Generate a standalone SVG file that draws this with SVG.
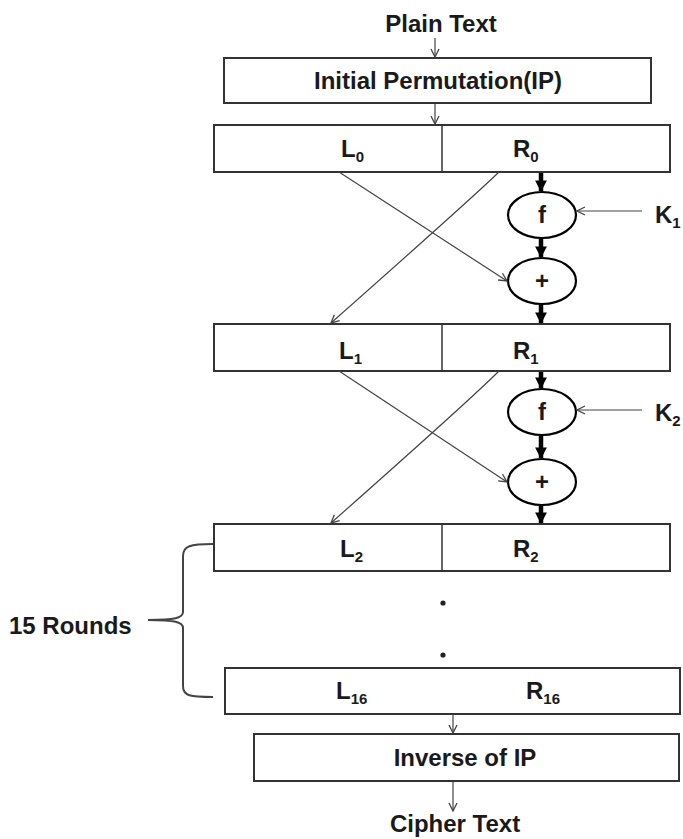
<svg xmlns="http://www.w3.org/2000/svg" width="683" height="839" viewBox="0 0 683 839">
<defs>
<style>
.box{fill:#fff;stroke:#333;stroke-width:2}
.div{stroke:#333;stroke-width:1.5}
.op{fill:#fff;stroke:#000;stroke-width:2.2}
.t{font-family:"Liberation Sans",Arial,sans-serif;font-weight:bold;font-size:24px;fill:#1a1a1a}
.s{font-size:15px}
.thin{fill:none;stroke:#444;stroke-width:1.2}
.thick{fill:none;stroke:#000;stroke-width:4.5}
</style>
<marker id="open" viewBox="0 0 10 10" refX="9" refY="5" markerWidth="10" markerHeight="10" markerUnits="userSpaceOnUse" orient="auto">
<path d="M1,1 L9,5 L1,9" fill="none" stroke="#444" stroke-width="1.3"/>
</marker>
<marker id="solid" viewBox="0 0 10 10" refX="9" refY="5" markerWidth="2.6" markerHeight="2.6" orient="auto">
<path d="M0,0 L10,5 L0,10 Z" fill="#000"/>
</marker>
</defs>
<rect width="683" height="839" fill="#fff"/>

<g id="plaintext"><text class="t" x="441" y="32" text-anchor="middle">Plain Text</text></g>
<g id="ip"><rect class="box" x="224" y="58" width="427" height="45"/><text class="t" x="438" y="89" text-anchor="middle">Initial Permutation(IP)</text></g>
<g id="lr0"><rect class="box" x="214" y="125" width="456" height="47"/><line class="div" x1="442" y1="125" x2="442" y2="172"/>
<text class="t" x="341" y="157">L<tspan class="s" dy="5">0</tspan></text>
<text class="t" x="513" y="157">R<tspan class="s" dy="5">0</tspan></text></g>
<g id="f1"><ellipse class="op" cx="542" cy="215" rx="34" ry="23"/><text class="t" x="542" y="223" text-anchor="middle" font-size="22">f</text></g>
<g id="x1"><ellipse class="op" cx="542" cy="281" rx="34" ry="23"/><text class="t" x="542" y="289" text-anchor="middle" font-size="22">+</text></g>
<g id="k1"><text class="t" x="655" y="223">K<tspan class="s" dy="5">1</tspan></text></g>
<g id="lr1"><rect class="box" x="214" y="324" width="456" height="47"/><line class="div" x1="442" y1="324" x2="442" y2="371"/>
<text class="t" x="339" y="359">L<tspan class="s" dy="5">1</tspan></text>
<text class="t" x="513" y="359">R<tspan class="s" dy="5">1</tspan></text></g>
<g id="f2"><ellipse class="op" cx="542" cy="412" rx="34" ry="23"/><text class="t" x="542" y="420" text-anchor="middle" font-size="22">f</text></g>
<g id="x2"><ellipse class="op" cx="542" cy="482" rx="34" ry="23"/><text class="t" x="542" y="490" text-anchor="middle" font-size="22">+</text></g>
<g id="k2"><text class="t" x="655" y="421">K<tspan class="s" dy="5">2</tspan></text></g>
<g id="lr2"><rect class="box" x="214" y="524" width="456" height="47"/><line class="div" x1="442" y1="524" x2="442" y2="571"/>
<text class="t" x="340" y="557">L<tspan class="s" dy="5">2</tspan></text>
<text class="t" x="513" y="557">R<tspan class="s" dy="5">2</tspan></text></g>
<g id="dots"><circle cx="443" cy="603" r="2.6" fill="#222"/><circle cx="443" cy="655" r="2.6" fill="#222"/></g>
<g id="lr16"><rect class="box" x="225" y="668" width="455" height="46"/>
<text class="t" x="336" y="699">L<tspan class="s" dy="5">16</tspan></text>
<text class="t" x="526" y="699">R<tspan class="s" dy="5">16</tspan></text></g>
<g id="invip"><rect class="box" x="254" y="734" width="425" height="47"/><text class="t" x="465" y="766" text-anchor="middle">Inverse of IP</text></g>
<g id="ciphertext"><text class="t" x="455" y="832" text-anchor="middle">Cipher Text</text></g>
<g id="rounds"><text class="t" x="9" y="634">15 Rounds</text>
<path d="M213,544 C190,544 183,546 183,556 L183,612 C183,618 175,620 148,620 M148,620 C175,620 183,622 183,628 L183,686 C183,696 190,697 213,697" fill="none" stroke="#444" stroke-width="2"/></g>

<g id="connectors">
<line class="thin" x1="435" y1="38" x2="435" y2="57" marker-end="url(#open)"/>
<line class="thin" x1="435" y1="104" x2="435" y2="124" marker-end="url(#open)"/>
<line class="thin" x1="339" y1="172" x2="507" y2="281" marker-end="url(#open)"/>
<path class="thin" d="M499,172 Q470,200 331,323" marker-end="url(#open)"/>
<line class="thin" x1="339" y1="371" x2="507" y2="482" marker-end="url(#open)"/>
<path class="thin" d="M499,371 Q470,400 331,523" marker-end="url(#open)"/>
<line class="thin" x1="642" y1="211" x2="577" y2="211" marker-end="url(#open)"/>
<line class="thin" x1="642" y1="410" x2="577" y2="410" marker-end="url(#open)"/>
<line class="thick" x1="541" y1="173" x2="541" y2="191" marker-end="url(#solid)"/>
<line class="thick" x1="541" y1="239" x2="541" y2="257" marker-end="url(#solid)"/>
<line class="thick" x1="541" y1="305" x2="541" y2="323" marker-end="url(#solid)"/>
<line class="thick" x1="541" y1="372" x2="541" y2="388" marker-end="url(#solid)"/>
<line class="thick" x1="541" y1="436" x2="541" y2="458" marker-end="url(#solid)"/>
<line class="thick" x1="541" y1="506" x2="541" y2="523" marker-end="url(#solid)"/>
<line class="thin" x1="453" y1="715" x2="453" y2="733" marker-end="url(#open)"/>
<line class="thin" x1="453" y1="782" x2="453" y2="811" marker-end="url(#open)"/>
</g>
</svg>
